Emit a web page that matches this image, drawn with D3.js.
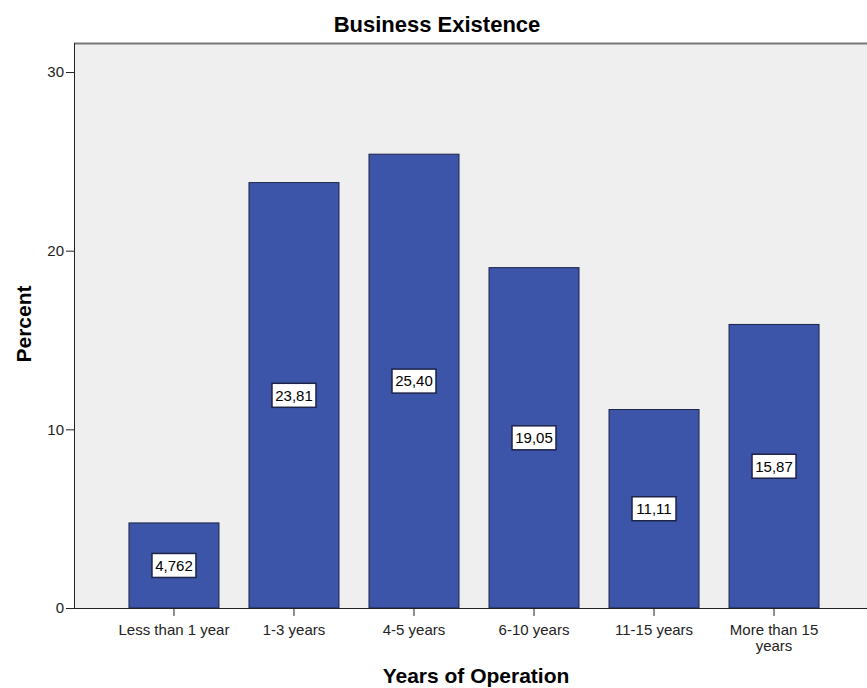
<!DOCTYPE html>
<html>
<head>
<meta charset="utf-8">
<script src="https://cdn.jsdelivr.net/npm/d3@7"></script>
<style>
  body { margin: 0; background: #fff; }
  text { font-family: Arial, "Liberation Sans", sans-serif; }
</style>
</head>
<body>
<div id="chart"></div>
<script>
const categories = ["Less than 1 year", "1-3 years", "4-5 years", "6-10 years", "11-15 years", "More than 15 years"];
const percents = [4.762, 23.81, 25.40, 19.05, 11.11, 15.87];
const valueLabels = ["4,762", "23,81", "25,40", "19,05", "11,11", "15,87"];
const yTicks = [0, 10, 20, 30];

const width = 867, height = 688;
const plot = {left: 74, top: 43, right: 874, bottom: 608};

let svg = d3.select("#chart").append("svg")
    .attr("width", width)
    .attr("height", height);

let x = d3.scaleBand()
    .domain(categories)
    .range([plot.left, plot.right])
    .paddingInner(0.25)
    .paddingOuter(0.458);

let y = d3.scaleLinear()
    .domain([0, 30])
    .range([plot.bottom, 72]);

// plot background
svg.append("rect")
    .attr("x", plot.left)
    .attr("y", plot.top)
    .attr("width", plot.right - plot.left)
    .attr("height", plot.bottom - plot.top)
    .attr("fill", "#efefef");

svg.append("line")
    .attr("x1", plot.left).attr("x2", plot.right)
    .attr("y1", plot.top + 0.5).attr("y2", plot.top + 0.5)
    .attr("stroke", "#777").attr("stroke-width", 2);

// bars
svg.selectAll("rect.bar")
    .data(percents)
    .join("rect")
    .attr("class", "bar")
    .attr("x", (d, i) => x(categories[i]))
    .attr("y", d => y(d))
    .attr("width", x.bandwidth())
    .attr("height", d => y(0) - y(d))
    .attr("fill", "#3d55a9")
    .attr("stroke", "#1c2448")
    .attr("stroke-width", 1);

// value labels in the middle of each bar
let labels = svg.selectAll("g.vlabel")
    .data(percents)
    .join("g")
    .attr("class", "vlabel")
    .attr("transform", (d, i) => `translate(${x(categories[i]) + x.bandwidth()/2},${(y(d) + y(0))/2})`);

labels.append("rect")
    .attr("x", -22).attr("y", -12)
    .attr("width", 44).attr("height", 24)
    .attr("fill", "#fff")
    .attr("stroke", "#1c2448")
    .attr("stroke-width", 1.5);

labels.append("text")
    .attr("text-anchor", "middle")
    .attr("dy", "0.36em")
    .attr("font-size", "15px")
    .attr("fill", "#000")
    .text((d, i) => valueLabels[i]);

// y axis
let yAxis = svg.append("g")
    .attr("transform", `translate(${plot.left},0)`)
    .call(d3.axisLeft(y).tickValues(yTicks).tickSize(8).tickPadding(2).tickFormat(d3.format("d")));
yAxis.select(".domain").remove();
yAxis.selectAll("line").attr("stroke", "#222");
yAxis.selectAll("text").attr("font-size", "15px").attr("fill", "#222");

svg.append("line")
    .attr("x1", plot.left + 0.5).attr("x2", plot.left + 0.5)
    .attr("y1", plot.top).attr("y2", plot.bottom)
    .attr("stroke", "#222");

// x axis
let xAxis = svg.append("g")
    .attr("transform", `translate(0,${plot.bottom})`)
    .call(d3.axisBottom(x).tickSize(8).tickPadding(8));
xAxis.select(".domain").remove();
xAxis.selectAll("line").attr("stroke", "#222");
xAxis.selectAll("text")
    .attr("font-size", "15px")
    .attr("fill", "#222")
    .each(function (d) {
        if (d === "More than 15 years") {
            let t = d3.select(this);
            t.text(null);
            t.append("tspan").attr("x", 0).attr("dy", "0.71em").text("More than 15");
            t.append("tspan").attr("x", 0).attr("dy", "1.1em").text("years");
        }
    });

svg.append("line")
    .attr("x1", plot.left).attr("x2", plot.right)
    .attr("y1", plot.bottom + 0.5).attr("y2", plot.bottom + 0.5)
    .attr("stroke", "#222");

// titles
svg.append("text")
    .attr("x", 437).attr("y", 32)
    .attr("text-anchor", "middle")
    .attr("font-size", "22px")
    .attr("font-weight", "bold")
    .text("Business Existence");

svg.append("text")
    .attr("x", 476).attr("y", 683)
    .attr("text-anchor", "middle")
    .attr("font-size", "21px")
    .attr("font-weight", "bold")
    .text("Years of Operation");

svg.append("text")
    .attr("transform", "translate(31,324) rotate(-90)")
    .attr("text-anchor", "middle")
    .attr("font-size", "21px")
    .attr("font-weight", "bold")
    .text("Percent");
</script>
</body>
</html>
